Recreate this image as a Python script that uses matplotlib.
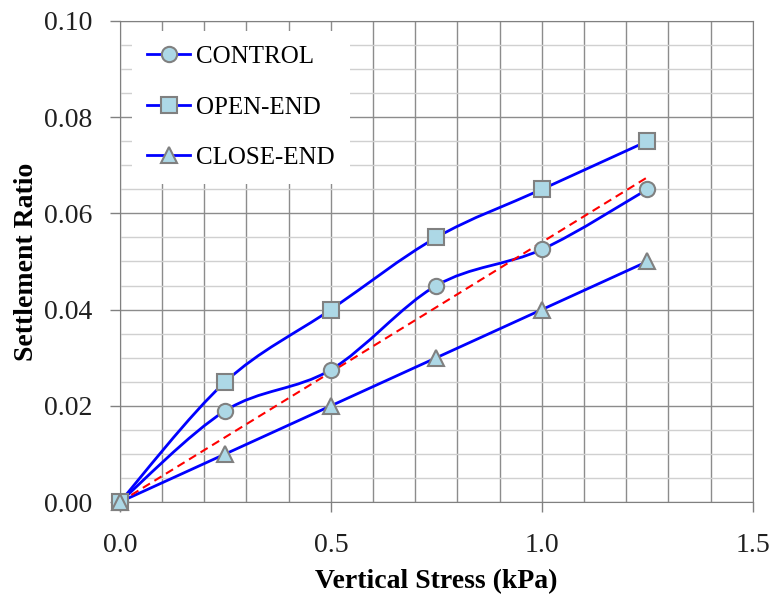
import numpy as np
import matplotlib
matplotlib.use("Agg")
import matplotlib.pyplot as plt
from matplotlib.path import Path
from matplotlib.patches import PathPatch
from matplotlib.lines import Line2D

# ---- data ----
stress = [0.0, 0.25, 0.5, 0.75, 1.0, 1.25]
control = [0.0, 0.019, 0.0275, 0.045, 0.0525, 0.065]
open_end = [0.0, 0.025, 0.040, 0.055, 0.065, 0.075]
close_end = [0.0, 0.010, 0.020, 0.030, 0.040, 0.050]
trend_x = [0.0, 1.25]
trend_y = [0.0, 0.0675]

BLUE = "#0000FF"
FILL = "#ADD8E6"
EDGE = "#808080"

plt.rcParams["font.family"] = ["Liberation Serif", "DejaVu Serif"]


def smooth_path(x, y):
    # Excel-style smoothed line: cubic Bezier through the points
    x = np.asarray(x, float); y = np.asarray(y, float)
    n = len(x)
    verts = [(x[0], y[0])]; codes = [Path.MOVETO]
    for i in range(n - 1):
        p0 = np.array([x[max(i - 1, 0)], y[max(i - 1, 0)]])
        p1 = np.array([x[i], y[i]]); p2 = np.array([x[i + 1], y[i + 1]])
        p3 = np.array([x[min(i + 2, n - 1)], y[min(i + 2, n - 1)]])
        c1 = p1 + (p2 - p0) / 6.0
        c2 = p2 - (p3 - p1) / 6.0
        verts += [tuple(c1), tuple(c2), tuple(p2)]
        codes += [Path.CURVE4] * 3
    return Path(verts, codes)


fig = plt.figure(figsize=(7.73, 5.97), dpi=100)
ax = fig.add_axes([0.155, 0.159, 0.819, 0.806])

series = [("CONTROL", control, "o", 11), ("OPEN-END", open_end, "s", 11), ("CLOSE-END", close_end, "^", 12)]
handles = []
for lbl, ys, mk, ms in series:
    ax.add_patch(PathPatch(smooth_path(stress, ys), fill=False, ec=BLUE, lw=2.0, zorder=3))
    ax.plot(stress, ys, ls="none", marker=mk, ms=ms, mfc=FILL, mec=EDGE, mew=1.5, zorder=4, clip_on=False)
    handles.append(Line2D([], [], color=BLUE, lw=2.0, marker=mk, ms=ms, mfc=FILL, mec=EDGE, mew=1.5))
ax.plot(trend_x, trend_y, ls=(0, (4, 2.5)), color="red", lw=1.5, zorder=3.5)

ax.set_xlim(0, 1.5); ax.set_ylim(0, 0.1)
ax.set_xticks(np.arange(0, 1.51, 0.5)); ax.set_xticks(np.arange(0, 1.51, 0.1), minor=True)
ax.set_yticks(np.arange(0, 0.101, 0.02)); ax.set_yticks(np.arange(0, 0.101, 0.005), minor=True)
ax.xaxis.set_major_formatter(matplotlib.ticker.FormatStrFormatter("%.1f"))
ax.yaxis.set_major_formatter(matplotlib.ticker.FormatStrFormatter("%.2f"))
ax.tick_params(which="major", direction="out", length=7, width=1, color=EDGE, labelsize=20,
               labelcolor="#202020")
ax.tick_params(axis="x", pad=15)
ax.tick_params(axis="y", pad=13)
ax.tick_params(which="minor", length=0)
ax.grid(True, which="major", color="#8c8c8c", lw=1.0)
ax.xaxis.grid(True, which="minor", color="#8c8c8c", lw=1.0)
ax.yaxis.grid(True, which="minor", color="#d0d0d0", lw=1.0)
ax.set_axisbelow(True)
for sp in ax.spines.values():
    sp.set_color(EDGE)

ax.set_xlabel("Vertical Stress (kPa)", fontsize=20, fontweight="bold", labelpad=8)
ax.set_ylabel("Settlement Ratio", fontsize=20, fontweight="bold", labelpad=3)

leg = ax.legend(handles, [s[0] for s in series], loc="upper left", bbox_to_anchor=(0.02, 0.98),
                borderaxespad=0, fontsize=18, frameon=True, fancybox=False, edgecolor="none",
                framealpha=1, handlelength=1.7, handletextpad=0.25, labelspacing=1.12, borderpad=0.6)
leg.set_zorder(5)

fig.savefig("out.png", dpi=100)
